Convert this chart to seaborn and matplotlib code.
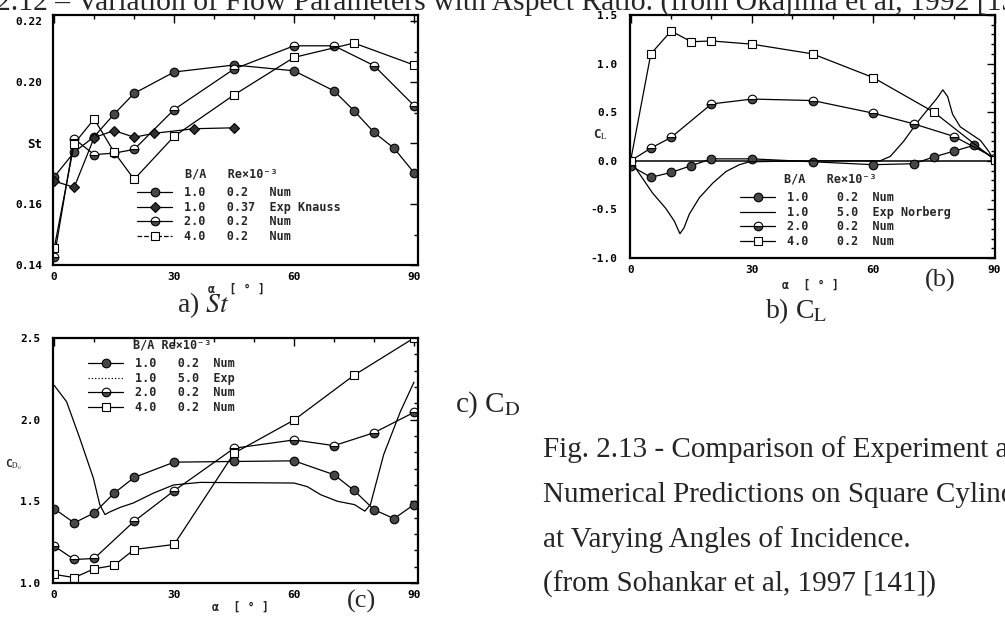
import matplotlib
matplotlib.use("Agg")
import matplotlib.pyplot as plt
from matplotlib.lines import Line2D
from matplotlib.ticker import MultipleLocator
import pandas as pd
import seaborn as sns

# ---------------- data ----------------
# a) Strouhal number vs angle of incidence
st_alpha_ba1 = [0, 5, 10, 15, 20, 30, 45, 60, 70, 75, 80, 85, 90]
st_ba1_num = [0.1689, 0.1770, 0.1821, 0.1895, 0.1963, 0.2033, 0.2056, 0.2037,
              0.1971, 0.1906, 0.1835, 0.1783, 0.1703]
st_alpha_knauss = [0, 5, 10, 15, 20, 25, 35, 45]
st_knauss = [0.1675, 0.1655, 0.1818, 0.1841, 0.1819, 0.1832, 0.1847, 0.1850]
st_alpha_ba2 = [0, 5, 10, 15, 20, 30, 45, 60, 70, 80, 90]
st_ba2_num = [0.1425, 0.1814, 0.1762, 0.1767, 0.1779, 0.1910, 0.2043, 0.2119,
              0.2119, 0.2054, 0.1923]
st_alpha_ba4 = [0, 5, 10, 15, 20, 30, 45, 60, 75, 90]
st_ba4_num = [0.1455, 0.1798, 0.1879, 0.1770, 0.1681, 0.1822, 0.1958, 0.2081,
              0.2128, 0.2056]

# b) lift coefficient
cl_alpha_ba1 = [0, 5, 10, 15, 20, 30, 45, 60, 70, 75, 80, 85, 90]
cl_ba1_num = [-0.05, -0.17, -0.12, -0.05, 0.02, 0.02, -0.01, -0.04, -0.03, 0.04,
              0.10, 0.16, 0.02]
cl_alpha_norberg = [0, 5.4, 8.7, 10.8, 12.2, 13.2, 14.5, 17.0, 20.3, 23.6, 26.9,
                    29.4, 45, 61.7, 64.2, 67.5, 70.8, 73.7, 75.7, 77.2, 78.4,
                    79.6, 81.5, 84.0, 86.5, 88.5, 90]
cl_norberg = [0.0, -0.33, -0.49, -0.62, -0.75, -0.69, -0.55, -0.38, -0.23, -0.11,
              -0.04, -0.01, 0.0, 0.0, 0.045, 0.20, 0.39, 0.54, 0.64, 0.73, 0.66,
              0.48, 0.35, 0.28, 0.21, 0.10, 0.0]
cl_alpha_ba2 = [0, 5, 10, 20, 30, 45, 60, 70, 80, 90]
cl_ba2_num = [0.0, 0.13, 0.24, 0.585, 0.635, 0.62, 0.49, 0.38, 0.25, 0.03]
cl_alpha_ba4 = [0, 5, 10, 15, 20, 30, 45, 60, 75, 90]
cl_ba4_num = [0.0, 1.10, 1.335, 1.225, 1.233, 1.20, 1.10, 0.856, 0.50, 0.01]

# c) drag coefficient
cd_alpha_ba1 = [0, 5, 10, 15, 20, 30, 45, 60, 70, 75, 80, 85, 90]
cd_ba1_num = [1.455, 1.368, 1.429, 1.55, 1.646, 1.74, 1.744, 1.748, 1.663, 1.567,
              1.449, 1.394, 1.48]
cd_alpha_exp = [0, 3.1, 6.4, 9.8, 11.4, 12.7, 13.9, 16.5, 19.8, 24.8, 29.8, 36.5,
                60, 63.3, 66.7, 70.9, 75.1, 77.7, 79.1, 82.4, 86.6, 90]
cd_exp = [2.21, 2.11, 1.886, 1.642, 1.48, 1.419, 1.435, 1.463, 1.49, 1.55, 1.60,
          1.616, 1.612, 1.59, 1.54, 1.50, 1.48, 1.44, 1.48, 1.785, 2.05, 2.23]
cd_alpha_ba2 = [0, 5, 10, 20, 30, 45, 60, 70, 80, 90]
cd_ba2_num = [1.226, 1.144, 1.15, 1.378, 1.565, 1.825, 1.876, 1.841, 1.92, 2.045]
cd_alpha_ba4 = [0, 5, 10, 15, 20, 30, 45, 60, 75, 90]
cd_ba4_num = [1.053, 1.033, 1.087, 1.108, 1.205, 1.236, 1.795, 1.998, 2.272, 2.5]

x_ticks = [0, 30, 60, 90]
st_ticks = [0.14, 0.16, 0.18, 0.20, 0.22]
st_tick_labels = ["0.14", "0.16", "St", "0.20", "0.22"]
cl_ticks = [-1.0, -0.5, 0.0, 0.5, 1.0, 1.5]
cl_tick_labels = ["-1.0", "-0.5", "0.0", "0.5", "1.0", "1.5"]
cd_ticks = [1.0, 1.5, 2.0, 2.5]
cd_tick_labels = ["1.0", "1.5", "2.0", "2.5"]

legend_a = ["1.0   0.2   Num", "1.0   0.37  Exp Knauss", "2.0   0.2   Num",
            "4.0   0.2   Num"]
legend_b = ["1.0    0.2  Num", "1.0    5.0  Exp Norberg", "2.0    0.2  Num",
            "4.0    0.2  Num"]
legend_c = ["1.0   0.2  Num", "1.0   5.0  Exp", "2.0   0.2  Num",
            "4.0   0.2  Num"]

# ---------------- style ----------------
sns.set_style("white")
MONO = ["DejaVu Sans Mono"]
SERIF = ["Liberation Serif", "DejaVu Serif"]
plt.rcParams["font.family"] = MONO
plt.rcParams["mathtext.fontset"] = "stix"

W, H = 1005, 618
fig = plt.figure(figsize=(W / 100, H / 100), dpi=100)
fig.patch.set_facecolor("white")


def fx(x):
    return x / W


def fy(y):
    return 1 - y / H


DARK = "#474747"
LINE_W = 0.9
M_FULL = dict(marker="o", markersize=6.2, markerfacecolor=DARK,
              markeredgecolor="black", markeredgewidth=0.8)
M_DIAM = dict(marker="D", markersize=5.2, markerfacecolor="#303030",
              markeredgecolor="black", markeredgewidth=0.8)
M_HALF = dict(marker="o", markersize=6.2, fillstyle="bottom",
              markerfacecolor=DARK, markerfacecoloralt="white",
              markeredgecolor="black", markeredgewidth=0.8)
M_SQ = dict(marker="s", markersize=6.2, markerfacecolor="white",
            markeredgecolor="black", markeredgewidth=0.8)
M_NONE = dict(marker=None)


def draw(ax, x, y, style):
    df = pd.DataFrame({"alpha": x, "value": y})
    sns.lineplot(data=df, x="alpha", y="value", ax=ax, color="black",
                 linewidth=LINE_W, estimator=None, sort=False, legend=False,
                 **style)


def frame(ax, xlim, ylim, yticks, ylabels, yminor, ypad):
    ax.set_xlim(*xlim)
    ax.set_ylim(*ylim)
    ax.set_xticks(x_ticks)
    ax.set_xticklabels([str(t) for t in x_ticks])
    ax.xaxis.set_minor_locator(MultipleLocator(10))
    ax.set_yticks(yticks)
    ax.set_yticklabels(ylabels)
    ax.yaxis.set_minor_locator(MultipleLocator(yminor))
    ax.set_xlabel("")
    ax.set_ylabel("")
    ax.tick_params(which="both", direction="in", top=True, right=True,
                   colors="black", width=1.0, labelsize=8)
    ax.tick_params(which="major", length=6)
    ax.tick_params(which="minor", length=3)
    ax.tick_params(axis="x", pad=5)
    ax.tick_params(axis="y", pad=ypad)
    for lbl in ax.get_xticklabels() + ax.get_yticklabels():
        lbl.set_fontweight("bold")
    for sp in ax.spines.values():
        sp.set_linewidth(1.6)
        sp.set_color("black")
        sp.set_visible(True)


def handle(style, ls="-"):
    return Line2D([], [], color="black", linewidth=LINE_W, linestyle=ls, **style)


def legend(ax, labels, handles, x, y, title, tx):
    lg = ax.legend(handles, labels, loc="upper left",
                   bbox_to_anchor=(fx(x), fy(y)), bbox_transform=fig.transFigure,
                   frameon=False, borderpad=0, borderaxespad=0,
                   handlelength=3.0, handletextpad=1.0, labelspacing=0.14,
                   prop=dict(family=MONO, weight="bold", size=8.5))
    fig.text(fx(tx), fy(y - 12), title, family=MONO, weight="bold",
             size=8.5, ha="left", va="center")
    return lg


def axis_text(x, y, s, size=8.5):
    fig.text(fx(x), fy(y), s, family=MONO, weight="bold", size=size,
             ha="center", va="center")


# ---------------- a) St ----------------
ax_a = fig.add_axes([fx(53), fy(265), 365 / W, 250 / H])
draw(ax_a, st_alpha_ba1, st_ba1_num, M_FULL)
draw(ax_a, st_alpha_knauss, st_knauss, M_DIAM)
draw(ax_a, st_alpha_ba2, st_ba2_num, M_HALF)
draw(ax_a, st_alpha_ba4, st_ba4_num, M_SQ)
frame(ax_a, (-0.3, 91), (0.14, 0.222), st_ticks, st_tick_labels, 0.01, 8)
ax_a.get_yticklabels()[2].set_fontsize(9)
legend(ax_a, legend_a,
       [handle(M_FULL), handle(M_DIAM), handle(M_HALF), handle(M_SQ, "--")],
       137, 186, "B/A   Re×10⁻³", 185)
axis_text(236, 289, "α  [ ° ]")

# ---------------- b) CL ----------------
ax_b = fig.add_axes([fx(630), fy(258), 365 / W, 243 / H])
ax_b.axhline(0, color="black", linewidth=1.1)
draw(ax_b, cl_alpha_ba1, cl_ba1_num, M_FULL)
draw(ax_b, cl_alpha_norberg, cl_norberg, M_NONE)
draw(ax_b, cl_alpha_ba2, cl_ba2_num, M_HALF)
draw(ax_b, cl_alpha_ba4, cl_ba4_num, M_SQ)
frame(ax_b, (-0.15, 90.1), (-1.0, 1.5), cl_ticks, cl_tick_labels, 0.1, 9)
legend(ax_b, legend_b,
       [handle(M_FULL), handle(M_NONE), handle(M_HALF), handle(M_SQ)],
       740, 191, "B/A   Re×10⁻³", 784)
axis_text(600, 135, r"C$_{\rm L}$", size=9)
axis_text(810, 285, "α  [ ° ]")

# ---------------- c) CD ----------------
ax_c = fig.add_axes([fx(53), fy(583), 365 / W, 245 / H])
draw(ax_c, cd_alpha_ba1, cd_ba1_num, M_FULL)
draw(ax_c, cd_alpha_exp, cd_exp, M_NONE)
draw(ax_c, cd_alpha_ba2, cd_ba2_num, M_HALF)
draw(ax_c, cd_alpha_ba4, cd_ba4_num, M_SQ)
frame(ax_c, (-0.3, 91), (1.0, 2.5), cd_ticks, cd_tick_labels, 0.1, 9)
legend(ax_c, legend_c,
       [handle(M_FULL), handle(M_NONE, ":"), handle(M_HALF), handle(M_SQ)],
       88, 357, "B/A Re×10⁻³", 133)
axis_text(14, 465, r"C$_{\rm D_0}$", size=8)
axis_text(240, 607, "α  [ ° ]")

# ---------------- captions ----------------
fig.text(fx(-4), fy(11),
         "2.12 – Variation of Flow Parameters with Aspect Ratio. "
         "(from Okajima et al, 1992 [13",
         family=SERIF, size=21.3, ha="left", va="baseline")
fig.text(fx(177), fy(312), r"a) $\mathit{St}$", family=SERIF, size=20,
         ha="left", va="baseline")
fig.text(fx(765), fy(318), r"b) C$_{\mathrm{L}}$", family=SERIF, size=20,
         ha="left", va="baseline")
fig.text(fx(455), fy(412), r"c) C$_{\mathrm{D}}$", family=SERIF, size=21,
         ha="left", va="baseline")
fig.text(fx(925), fy(287), "(b)", family=SERIF, size=19, ha="left",
         va="baseline")
fig.text(fx(347), fy(608), "(c)", family=SERIF, size=19, ha="left",
         va="baseline")

caption = ["Fig. 2.13 - Comparison of Experiment and",
           "Numerical Predictions on Square Cylinders",
           "at Varying Angles of Incidence.",
           "(from Sohankar et al, 1997 [141])"]
for i, line in enumerate(caption):
    fig.text(fx(543), fy(457 + 45 * i), line, family=SERIF, size=21,
             ha="left", va="baseline")

fig.savefig("out.png", dpi=100, facecolor="white")
